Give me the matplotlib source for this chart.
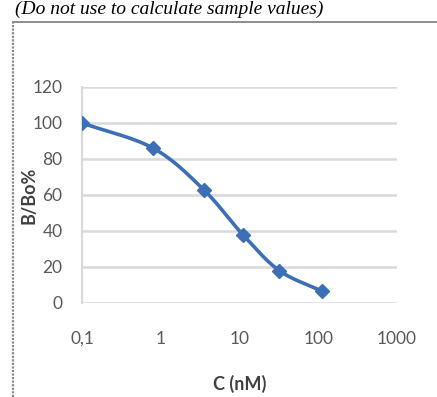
#!/usr/bin/env python3
"""Competitive binding curve, B/Bo% vs concentration (log scale)"""

import numpy as np
import matplotlib
matplotlib.use("Agg")
import matplotlib.pyplot as plt
from matplotlib.lines import Line2D
from matplotlib.ticker import FixedLocator, FixedFormatter, NullLocator

# data
conc_nM = [0.1, 0.8, 3.5, 11, 32, 112]
b_bo_pct = [100, 86, 63, 38, 18, 6.5]

x_ticks = [0.1, 1, 10, 100, 1000]
x_tick_labels = ["0,1", "1", "10", "100", "1000"]
y_ticks = [0, 20, 40, 60, 80, 100, 120]

BLUE = "#3d6fb6"
GRID = "#d9d9d9"
TEXT = "#595959"


def smooth_curve(xs, ys, n=30):
    """Catmull-Rom curve through the points, in log-x space (like Excel's smoothed line)"""
    px = np.log10(np.asarray(xs, float))
    py = np.asarray(ys, float)
    px = np.concatenate([[2 * px[0] - px[1]], px, [2 * px[-1] - px[-2]]])
    py = np.concatenate([[2 * py[0] - py[1]], py, [2 * py[-1] - py[-2]]])
    out_x, out_y = [], []
    t = np.linspace(0, 1, n)
    for i in range(1, len(px) - 2):
        for arr, out in ((px, out_x), (py, out_y)):
            p0, p1, p2, p3 = arr[i - 1], arr[i], arr[i + 1], arr[i + 2]
            seg = 0.5 * ((2 * p1) + (-p0 + p2) * t
                         + (2 * p0 - 5 * p1 + 4 * p2 - p3) * t ** 2
                         + (-p0 + 3 * p1 - 3 * p2 + p3) * t ** 3)
            out.extend(seg)
    return 10 ** np.array(out_x), np.array(out_y)


def main():
    plt.rcParams['font.family'] = ['Lato', 'DejaVu Sans']
    fig = plt.figure(figsize=(4.37, 3.97), dpi=100)
    ax = fig.add_axes([0.1876, 0.2368, 0.7209, 0.5441])

    cx, cy = smooth_curve(conc_nM, b_bo_pct)
    ax.plot(cx, cy, color=BLUE, lw=2.6, solid_capstyle='round', zorder=3)
    ax.plot(conc_nM, b_bo_pct, linestyle='none', marker='D', ms=7,
            color=BLUE, zorder=4)

    ax.set_xscale('log')
    ax.set_xlim(0.1, 1000)
    ax.set_ylim(0, 120)
    ax.xaxis.set_major_locator(FixedLocator(x_ticks))
    ax.xaxis.set_major_formatter(FixedFormatter(x_tick_labels))
    ax.xaxis.set_minor_locator(NullLocator())
    ax.set_yticks(y_ticks)

    ax.grid(axis='y', color=GRID, lw=1.8)
    ax.set_axisbelow(True)
    for side in ('top', 'right', 'bottom'):
        ax.spines[side].set_visible(False)
    ax.spines['left'].set_color(GRID)
    ax.spines['left'].set_linewidth(1.5)
    ax.tick_params(length=0, labelsize=12.5, labelcolor=TEXT)
    ax.tick_params(axis='x', pad=20)
    ax.tick_params(axis='y', pad=14)

    ax.set_xlabel('C (nM)', fontsize=13, fontweight='bold', color='#404040')
    ax.set_ylabel('B/Bo%', fontsize=13, fontweight='bold', color='#404040')
    ax.xaxis.set_label_coords(0.5, -0.335)
    ax.yaxis.set_label_coords(-0.14, 0.5)

    # caption above the chart object
    fig.text(0.035, 1 - 1 / 397, "(Do not use to calculate sample values)",
             family='Liberation Serif', style='italic', fontsize=14,
             ha='left', va='top')

    # frame of the embedded chart object
    top = 1 - 22 / 397
    fig.add_artist(Line2D([13 / 437, 13 / 437], [0, top],
                          color='#8c8c8c', lw=1.6, linestyle=(0, (1, 0.6))))
    fig.add_artist(Line2D([13 / 437, 1], [top, top],
                          color='#8c8c8c', lw=1.4))

    fig.savefig('out.png', dpi=100)


if __name__ == "__main__":
    main()
